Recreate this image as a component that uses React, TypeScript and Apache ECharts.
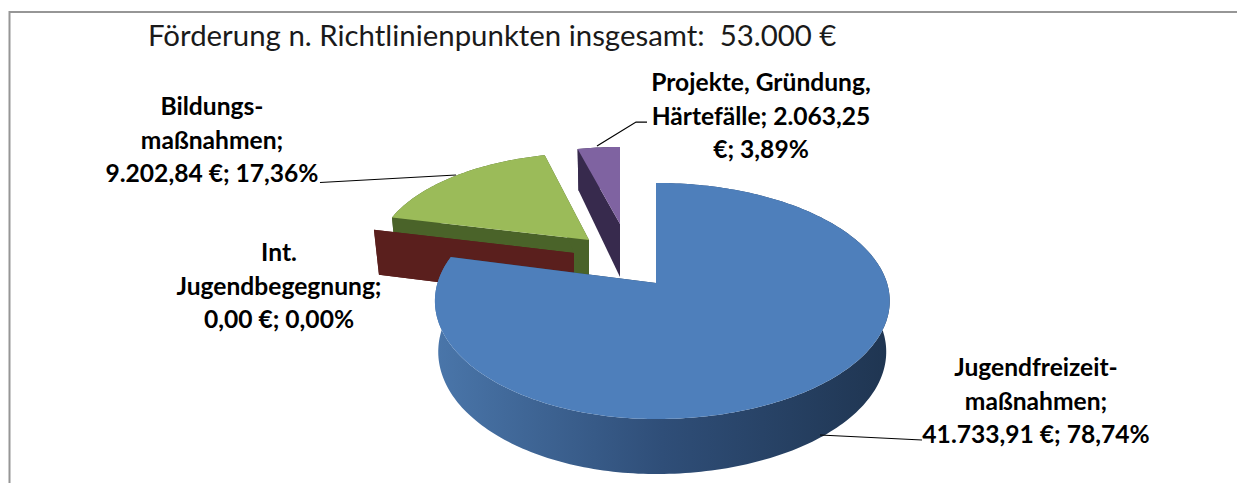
import React, { useEffect, useRef } from "react";
import * as echarts from "echarts";

const titleText = "Förderung n. Richtlinienpunkten insgesamt:  53.000 €";
const categories = ["Jugendfreizeitmaßnahmen", "Int. Jugendbegegnung", "Bildungsmaßnahmen", "Projekte, Gründung, Härtefälle"];
const values = [41733.91, 0, 9202.84, 2063.25];
const labelLines = [
  ["Jugendfreizeit-", "maßnahmen;", "41.733,91 €; 78,74%"],
  ["Int.", "Jugendbegegnung;", "0,00 €; 0,00%"],
  ["Bildungs-", "maßnahmen;", "9.202,84 €; 17,36%"],
  ["Projekte, Gründung,", "Härtefälle; 2.063,25", "€; 3,89%"],
];

// Drawing settings, one per slice
const FONT = "Lato, Carlito, sans-serif";
const sliceStyle = [
  { ax: 656, ay: 283, sx: 1, sy: 1, d0: 50, k: 5, low: 0.985, top: "#4e7fbb", wall: "#27425f", z: 40 },
  { ax: 574, ay: 253, sx: 0.975, sy: 0.9, d0: 46, k: 4, low: 0.975, top: "#5a1f1d", wall: "#5a1f1d", z: 30 },
  { ax: 589, ay: 240, sx: 0.96, sy: 0.87, d0: 45, k: 10, low: 0.98, top: "#9bbb59", wall: "#4a6329", z: 20 },
  { ax: 620, ay: 224, sx: 0.92, sy: 0.77, d0: 53, k: 12, low: 0.98, top: "#7f63a1", wall: "#372a4d", z: 10 },
];
const labelPos = [
  [1036, 400],
  [279, 285],
  [212, 139],
  [761, 115],
];
const leaders = [
  [[922, 440], [820, 435]],
  [],
  [[320, 182.5], [456, 175]],
  [[647, 122], [636, 122], [597, 146]],
];

const total = values.reduce((a, b) => a + b, 0);
const P = 0.1525, S = 115.3, RR = 231, RL = 218.5;

function angleRange(i: number) {
  let before = 0;
  for (let j = 0; j < i; j++) before += values[j];
  return [(before / total) * Math.PI * 2, ((before + values[i]) / total) * Math.PI * 2];
}

function project(s: any, theta: number, dropped: boolean): number[] {
  const u = Math.sin(theta), v = Math.cos(theta), w = 1 + P * v;
  const x = (u > 0 ? RR : RL) * s.sx * (u / w);
  const y = s.ay - S * s.sy * (v / w);
  return dropped ? [s.ax + x * s.low, y + s.d0 - s.k * v] : [s.ax + x, y];
}

function renderSlice(_params: any, api: any) {
  const i = api.value(0) as number;
  const s = sliceStyle[i];
  const [a0, a1] = angleRange(i);
  const apex = [s.ax, s.ay];
  const apexLow = [s.ax, s.ay + s.d0];
  const n = Math.max(2, Math.ceil((a1 - a0) / 0.02));
  const arc: number[][] = [];
  const low: number[][] = [];
  for (let k = 0; k <= n; k++) {
    const t = a0 + ((a1 - a0) * k) / n;
    arc.push(project(s, t, false));
    low.push(project(s, t, true));
  }
  const children: any[] = [];
  const poly = (points: number[][], fill: any, z2: number) => ({
    type: "polygon",
    z2,
    shape: { points },
    style: { fill, stroke: null },
  });
  const rimFill = i === 0
    ? new echarts.graphic.LinearGradient(0, 0, 1, 0, [
        { offset: 0, color: "#4a76aa" },
        { offset: 0.5, color: "#2f4e78" },
        { offset: 1, color: "#1f3551" },
      ])
    : s.wall;
  children.push(poly([...arc, ...low.slice().reverse()], rimFill, s.z));
  children.push(poly([apex, arc[0], low[0], apexLow], s.wall, s.z + 1));
  children.push(poly([apex, arc[n], low[n], apexLow], s.wall, s.z + 1));
  if (a1 > a0) children.push(poly([apex, ...arc], s.top, s.z + 2));
  return { type: "group", children };
}

export default function App() {
  const ref = useRef<HTMLDivElement>(null);
  useEffect(() => {
    const chart = echarts.init(ref.current!, null, { renderer: "svg" });
    const graphics: any[] = [
      {
        type: "polyline",
        z: 0,
        shape: { points: [[9.5, 483], [9.5, 12], [1237, 12]] },
        style: { fill: "none", stroke: "#969696", lineWidth: 2 },
      },
    ];
    leaders.forEach((pts) => {
      if (pts.length)
        graphics.push({
          type: "polyline",
          z: 5,
          shape: { points: pts },
          style: { fill: "none", stroke: "#000", lineWidth: 1.25 },
        });
    });
    labelLines.forEach((lines, i) => {
      graphics.push({
        type: "text",
        z: 6,
        x: labelPos[i][0],
        y: labelPos[i][1],
        style: {
          text: lines.join("\n"),
          font: `bold 24.6px ${FONT}`,
          lineHeight: 33.5,
          fill: "#000",
          align: "center",
          verticalAlign: "middle",
        },
      });
    });
    chart.setOption({
      animation: false,
      backgroundColor: "#fff",
      title: {
        text: titleText,
        left: 143,
        top: 15,
        textStyle: { fontFamily: FONT, fontSize: 29.4, fontWeight: "normal", color: "#1a1a1a" },
      },
      series: [
        {
          type: "custom",
          coordinateSystem: "none",
          renderItem: renderSlice,
          data: values.map((v, i) => ({ name: categories[i], value: [i, v] })),
          silent: true,
          z: 2,
        },
      ],
      graphic: graphics,
    });
    return () => chart.dispose();
  }, []);
  return <div ref={ref} style={{ position: "absolute", left: 0, top: 0, width: 1237, height: 483 }} />;
}
